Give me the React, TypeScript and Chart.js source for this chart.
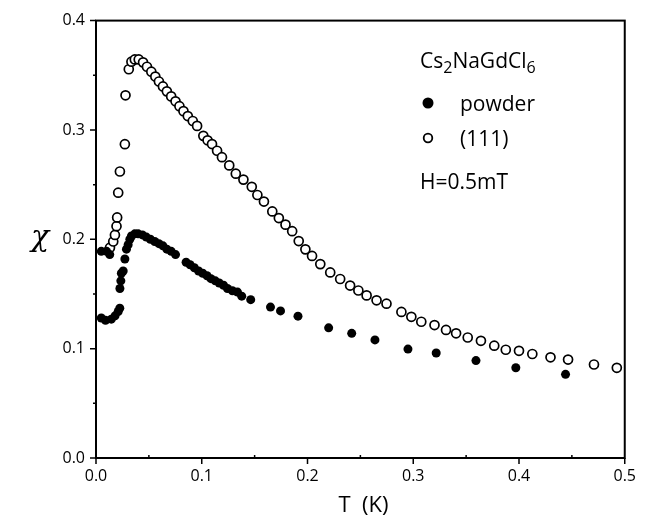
import React, { useEffect, useRef } from "react";
import { Chart, registerables } from "chart.js";

Chart.register(...registerables);

// Powder sample (filled circles)
const powderT = [
  0.005, 0.010, 0.013,
  0.005, 0.009, 0.0145, 0.018, 0.021, 0.0225,
  0.0226, 0.0235, 0.024, 0.0257, 0.0273, 0.0288, 0.0304, 0.032, 0.0335, 0.0367,
  0.0398, 0.0439, 0.0476, 0.0514, 0.0555, 0.0595, 0.0633, 0.067, 0.0711, 0.0752,
  0.0852, 0.089, 0.093, 0.097, 0.1009, 0.105, 0.1087, 0.1128, 0.1165, 0.1206,
  0.1243, 0.129, 0.1338, 0.1378, 0.1463,
  0.165, 0.1745, 0.191, 0.22, 0.2418, 0.2638, 0.295, 0.3217, 0.3593, 0.397, 0.444,
];
const powderChi = [
  0.189, 0.189, 0.186,
  0.128, 0.126, 0.127, 0.130, 0.134, 0.137,
  0.155, 0.162, 0.169, 0.171, 0.182, 0.191, 0.195, 0.200, 0.203, 0.205,
  0.205, 0.204, 0.202, 0.200, 0.198, 0.196, 0.194, 0.191, 0.189, 0.186,
  0.179, 0.1767, 0.174, 0.171, 0.169, 0.1667, 0.164, 0.162, 0.160, 0.158,
  0.155, 0.153, 0.1517, 0.148, 0.1448,
  0.138, 0.1345, 0.1297, 0.119, 0.114, 0.108, 0.0996, 0.096, 0.0891, 0.0825, 0.0765,
];

// (111) single crystal (open circles)
const crystalT = [
  0.0132, 0.0163, 0.0179, 0.0194, 0.020, 0.021, 0.0226, 0.0273, 0.0279, 0.031,
  0.0335, 0.0367, 0.0404, 0.0445, 0.0482, 0.0523, 0.0561, 0.0595, 0.0633, 0.067,
  0.0711, 0.0752, 0.0789, 0.0827, 0.0868, 0.0915, 0.0956, 0.1015, 0.1055, 0.1097,
  0.1145, 0.1191, 0.126, 0.1322, 0.1394, 0.1473, 0.1526, 0.1588, 0.1667, 0.1729,
  0.1792, 0.1855, 0.1917, 0.198, 0.2043, 0.2121, 0.2215, 0.2309, 0.2403, 0.2481,
  0.2559, 0.2653, 0.2747, 0.2888, 0.2982, 0.3076, 0.3201, 0.331, 0.3405, 0.3515,
  0.364, 0.3766, 0.3875, 0.40, 0.4126, 0.4298, 0.4464, 0.4709, 0.4925,
];
const crystalChi = [
  0.1923, 0.198, 0.204, 0.212, 0.220, 0.2426, 0.262, 0.287, 0.3317, 0.3555,
  0.3624, 0.3645, 0.3645, 0.3618, 0.3578, 0.3533, 0.3488, 0.3443, 0.3398, 0.3353,
  0.3307, 0.3262, 0.3217, 0.3172, 0.3127, 0.3082, 0.3037, 0.2946, 0.2905, 0.2871,
  0.281, 0.2751, 0.2676, 0.26, 0.2546, 0.248, 0.2405, 0.2345, 0.2255, 0.2194,
  0.2134, 0.2074, 0.1984, 0.1908, 0.1848, 0.1773, 0.1697, 0.1637, 0.1577, 0.1532,
  0.1487, 0.1442, 0.1411, 0.1336, 0.1291, 0.1246, 0.1216, 0.1171, 0.114, 0.1102,
  0.1072, 0.1027, 0.099, 0.098, 0.0951, 0.0921, 0.090, 0.0855, 0.0825,
];

const xTicks = [0, 0.1, 0.2, 0.3, 0.4, 0.5];
const yTicks = [0, 0.1, 0.2, 0.3, 0.4];
const xMinor = [0.05, 0.15, 0.25, 0.35, 0.45];
const yMinor = [0.05, 0.15, 0.25, 0.35];

const FONT = "'Open Sans', 'DejaVu Sans', sans-serif";

const decorPlugin = {
  id: "decor",
  afterDraw(chart: any) {
    const ctx = chart.ctx;
    const a = chart.chartArea;
    const xs = chart.scales.x;
    const ys = chart.scales.y;
    ctx.save();
    ctx.strokeStyle = "#000";
    ctx.lineWidth = 2;
    ctx.strokeRect(a.left, a.top, a.right - a.left, a.bottom - a.top);
    ctx.lineWidth = 1.5;
    ctx.beginPath();
    xTicks.forEach((v) => {
      const p = xs.getPixelForValue(v);
      ctx.moveTo(p, a.bottom);
      ctx.lineTo(p, a.bottom + 6);
    });
    xMinor.forEach((v) => {
      const p = xs.getPixelForValue(v);
      ctx.moveTo(p, a.bottom);
      ctx.lineTo(p, a.bottom - 3);
    });
    yTicks.forEach((v) => {
      const p = ys.getPixelForValue(v);
      ctx.moveTo(a.left, p);
      ctx.lineTo(a.left - 6, p);
    });
    yMinor.forEach((v) => {
      const p = ys.getPixelForValue(v);
      ctx.moveTo(a.left, p);
      ctx.lineTo(a.left - 3, p);
    });
    ctx.stroke();

    ctx.fillStyle = "#000";
    // axis titles
    ctx.textAlign = "center";
    ctx.textBaseline = "middle";
    ctx.font = `italic 30px 'DejaVu Serif', serif`;
    ctx.fillText("χ", 40, 238);
    ctx.font = `22px ${FONT}`;
    ctx.textBaseline = "alphabetic";
    ctx.fillText("T  (K)", (a.left + a.right) / 2 + 3, 512);

    // legend block
    ctx.textAlign = "left";
    const big = `21px ${FONT}`;
    const small = `16px ${FONT}`;
    let x = 420;
    const by = 68;
    const parts: [string, boolean][] = [["Cs", false], ["2", true], ["NaGdCl", false], ["6", true]];
    parts.forEach(([t, sub]) => {
      ctx.font = sub ? small : big;
      ctx.fillText(t, x, sub ? by + 5 : by);
      x += ctx.measureText(t).width;
    });
    ctx.font = big;
    ctx.fillText("powder", 460, 111);
    ctx.fillText("(111)", 460, 146);
    ctx.fillText("H=0.5mT", 420, 189);
    ctx.beginPath();
    ctx.arc(428, 103, 5.5, 0, Math.PI * 2);
    ctx.fill();
    ctx.beginPath();
    ctx.lineWidth = 1.8;
    ctx.arc(428, 138, 4.3, 0, Math.PI * 2);
    ctx.stroke();
    ctx.restore();
  },
};

export default function App() {
  const ref = useRef<HTMLCanvasElement | null>(null);
  useEffect(() => {
    document.body.style.margin = "0";
    const canvas = ref.current!;
    const chart = new Chart(canvas, {
      type: "scatter",
      data: {
        datasets: [
          {
            label: "powder",
            data: powderT.map((t, i) => ({ x: t, y: powderChi[i] })),
            pointRadius: 4.5,
            pointBackgroundColor: "#000",
            pointBorderColor: "#000",
            pointBorderWidth: 0,
          },
          {
            label: "(111)",
            data: crystalT.map((t, i) => ({ x: t, y: crystalChi[i] })),
            pointRadius: 4.5,
            pointBackgroundColor: "#fff",
            pointBorderColor: "#000",
            pointBorderWidth: 1.7,
          },
        ],
      },
      options: {
        animation: false,
        responsive: false,
        devicePixelRatio: 1,
        layout: { padding: { top: 15, right: 17, left: 0, bottom: 0 } },
        plugins: { legend: { display: false }, tooltip: { enabled: false } },
        scales: {
          x: {
            type: "linear",
            min: 0,
            max: 0.5,
            grid: { display: false, drawTicks: false },
            border: { display: false },
            ticks: {
              stepSize: 0.1,
              padding: 9,
              color: "#000",
              font: { family: FONT, size: 16 },
              callback: (v: any) => Number(v).toFixed(1),
            },
            afterFit: (s: any) => { s.height = 63; },
          },
          y: {
            type: "linear",
            min: 0,
            max: 0.4,
            grid: { display: false, drawTicks: false },
            border: { display: false },
            ticks: {
              stepSize: 0.1,
              padding: 11,
              color: "#000",
              font: { family: FONT, size: 16 },
              callback: (v: any) => Number(v).toFixed(1),
            },
            afterFit: (s: any) => { s.width = 96; },
          },
        },
      },
      plugins: [decorPlugin],
    });
    return () => chart.destroy();
  }, []);
  return (
    <div style={{ position: "absolute", left: 0, top: 0, width: 645, height: 521, background: "#fff" }}>
      <canvas ref={ref} width={645} height={521} />
    </div>
  );
}
